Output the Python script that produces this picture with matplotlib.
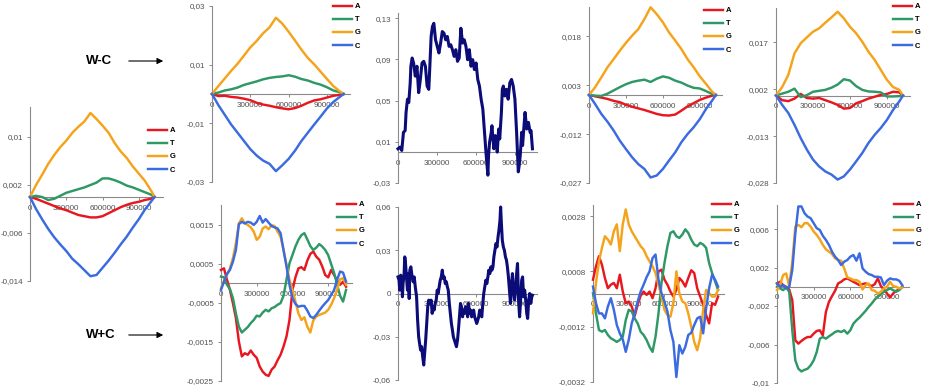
import numpy as np
import matplotlib.pyplot as plt
from matplotlib.lines import Line2D
from matplotlib.patches import FancyArrowPatch

plt.rcParams['font.family'] = ['Liberation Sans', 'DejaVu Sans']

# positions in kb, skews in units of 1e-3
pos_top = [0, 50, 100, 150, 200, 250, 300, 350, 400, 450, 500, 550, 600, 650, 700,
           750, 800, 850, 900, 950, 1000, 1030]

left_A = [0, -0.3, -0.7, -1.1, -1.5, -1.9, -2.2, -2.6, -3.0, -3.2, -3.4, -3.4, -3.2, -2.7,
          -2.2, -1.7, -1.3, -1.0, -0.8, -0.5, -0.3, 0]
left_T = [0, 0.2, 0.0, -0.5, -0.3, 0.2, 0.7, 1.0, 1.3, 1.6, 2.0, 2.4, 3.1, 3.1, 2.8, 2.4,
          1.9, 1.6, 1.2, 0.8, 0.4, 0]
left_G = [0, 2.0, 3.7, 5.5, 7.0, 8.3, 9.4, 10.7, 11.7, 12.6, 14.0, 13.0, 11.9, 10.7, 9.0,
          7.6, 6.5, 5.1, 3.9, 2.7, 1.1, 0]
left_C = [0, -2.0, -3.7, -5.3, -6.7, -7.9, -9.0, -10.3, -11.2, -12.2, -13.2, -13.0, -11.8,
          -10.6, -9.3, -7.9, -6.6, -5.1, -3.7, -2.1, -0.8, 0]

wc1_A = [0, -0.7, -0.6, -1.0, -1.2, -1.6, -2.1, -3.0, -3.6, -4.0, -4.5, -4.9, -5.2, -4.8,
         -4.0, -3.0, -2.2, -1.8, -1.2, -0.6, -0.3, 0]
wc1_T = [0, 0.5, 1.2, 1.6, 2.2, 3.1, 3.7, 4.3, 5.0, 5.5, 5.8, 6.0, 6.4, 5.9, 5.1, 4.6, 3.8,
         3.2, 2.3, 1.2, 0.6, 0]
wc1_G = [0, 2.7, 5.3, 7.9, 10.3, 13.1, 15.9, 18.1, 20.7, 22.7, 26.0, 24.0, 21.2, 18.2, 15.1,
         12.3, 10.1, 7.6, 5.1, 2.7, 0.9, 0]
wc1_C = [0, -3.8, -7.1, -10.4, -13.2, -16.0, -18.8, -21.0, -22.7, -23.8, -26.3, -24.3, -22.1,
         -19.3, -16.0, -13.2, -10.4, -7.7, -4.9, -2.7, -1.0, 0]

wc3_A = [0, -0.4, -0.8, -1.2, -1.8, -2.2, -3.0, -3.6, -4.1, -4.6, -5.2, -5.8, -6.2, -6.3,
         -6.0, -4.8, -3.5, -2.5, -1.5, -0.8, -0.2, 0]
wc3_T = [0, -0.2, -0.3, 0.4, 1.4, 2.4, 3.3, 4.0, 4.4, 4.7, 4.0, 5.0, 5.7, 5.3, 4.4, 3.8,
         2.9, 2.2, 2.0, 1.2, 0.3, 0]
wc3_G = [0, 2.4, 5.4, 8.5, 11.0, 13.6, 16.0, 18.2, 20.2, 23.3, 26.9, 24.8, 22.3, 19.2, 16.7,
         14.1, 11.0, 8.5, 5.7, 3.4, 1.0, 0]
wc3_C = [0, -2.8, -5.8, -8.2, -10.9, -14.0, -16.6, -19.1, -21.2, -22.7, -25.3, -24.7, -22.7,
         -20.1, -17.6, -14.5, -12.0, -9.9, -7.4, -4.3, -1.7, 0]

wc4_A = [0, -1.5, -1.8, -1.0, 0.5, -0.8, -1.0, -0.8, -1.5, -2.2, -3.0, -4.2, -4.0, -2.5,
         -1.8, -1.0, -0.4, 0.2, 0.5, 1.2, 1.0, 0]
wc4_T = [0, 0.6, 1.2, 2.2, -0.5, 0.1, 1.2, 1.5, 1.8, 2.5, 3.5, 5.2, 4.8, 3.0, 1.8, 1.3,
         1.2, 1.0, -0.3, -0.3, -0.2, 0]
wc4_G = [0, 2.7, 6.6, 13.5, 16.7, 18.6, 20.4, 21.5, 23.3, 25.0, 26.8, 24.7, 22.0, 19.9,
         17.2, 14.0, 11.4, 8.2, 5.0, 2.7, 1.8, 0]
wc4_C = [0, -3.0, -5.6, -9.4, -13.6, -17.3, -20.5, -22.7, -24.3, -25.3, -26.9, -25.9, -23.7,
         -21.1, -18.4, -15.2, -12.6, -10.4, -7.8, -4.6, -1.9, 0]

wc_pos = [0, 16, 29, 42, 55, 62, 73, 83, 94, 99, 109, 120, 133, 146, 159, 172, 185, 198,
          211, 224, 237, 244, 255, 265, 276, 289, 302, 315, 328, 341, 354, 367, 380, 393,
          406, 419, 432, 445, 458, 471, 484, 497, 510, 523, 536, 549, 562, 575, 588, 601,
          614, 627, 640, 653, 666, 679, 692, 697, 705, 718, 723, 731, 738, 749, 757, 764,
          775, 783, 796, 803, 811, 822, 835, 848, 861, 874, 887, 900, 913, 926, 933, 941,
          952, 959, 970, 978, 991, 1004, 1017, 1024, 1035]
wc_total = [3.2, 4.8, 1.6, 19.2, 20.8, 38.5, 51.3, 48.1, 67.3, 83.3, 91.3, 86.5, 73.7, 83.3,
            57.7, 70.5, 86.5, 88.1, 83.3, 64.1, 60.9, 80.1, 112.2, 121.8, 125.0, 109.0,
            102.6, 96.2, 105.8, 117.0, 115.4, 109.0, 112.2, 102.6, 104.2, 99.4, 92.9, 99.4,
            88.1, 91.3, 120.2, 105.8, 109.0, 102.6, 89.7, 99.4, 83.3, 89.7, 80.1, 86.5, 70.5,
            64.1, 51.3, 41.7, 19.2, -3.2, -22.4, -3.2, 9.6, 19.2, 25.6, 12.8, 3.2, 16.0, 12.8,
            0, 22.4, 12.8, 38.5, 60.9, 64.1, 54.5, 60.9, 51.3, 67.3, 70.5, 64.1, 51.3, 19.2,
            -19.2, -12.8, -3.2, 19.2, 6.4, 25.6, 38.5, 22.4, 28.8, 19.2, 20.8, 3.2]

pos_bot = [0, 25, 50, 75, 100, 125, 150, 175, 200, 225, 250, 275, 300, 325, 350, 375, 400,
           425, 450, 475, 500, 525, 550, 575, 600, 625, 650, 675, 700, 725, 750, 775, 800,
           825, 850, 875, 900, 925, 950, 975, 1000, 1025, 1050]

wpc1_A = [0.34, 0.38, 0.09, -0.17, -0.51, -0.89, -1.49, -1.87, -1.79, -1.83, -1.72, -1.83,
          -1.91, -2.13, -2.26, -2.34, -2.37, -2.21, -2.13, -1.97, -1.83, -1.62, -1.36, -0.94,
          -0.17, 0.15, 0.38, 0.41, 0.34, 0.58, 0.75, 0.81, 0.68, 0.60, 0.43, 0.21, 0.15, 0.34,
          0.21, 0.07, -0.04, 0.04, -0.09]
wpc1_T = [0.17, 0.15, -0.04, -0.15, -0.38, -0.77, -1.11, -1.26, -1.19, -1.12, -1.02, -0.94,
          -0.83, -0.85, -0.75, -0.68, -0.72, -0.64, -0.61, -0.55, -0.51, -0.32, 0.09, 0.51,
          0.72, 0.94, 1.11, 1.23, 1.28, 1.12, 0.95, 0.85, 0.91, 1.00, 0.94, 0.85, 0.72, 0.49,
          0.26, -0.04, -0.32, -0.47, -0.17]
wpc1_G = [-0.13, 0.07, 0.21, 0.38, 0.64, 1.02, 1.53, 1.66, 1.53, 1.49, 1.43, 1.32, 1.11,
          1.19, 1.40, 1.45, 1.38, 1.49, 1.46, 1.32, 1.19, 0.85, 0.47, 0.09, -0.17, -0.47,
          -0.77, -0.94, -0.87, -1.11, -1.26, -0.95, -0.85, -0.81, -0.78, -0.75, -0.68, -0.55,
          -0.38, -0.17, 0.10, 0.13, -0.04]
wpc1_C = [-0.17, 0.04, 0.24, 0.34, 0.55, 0.85, 1.51, 1.57, 1.53, 1.57, 1.55, 1.49, 1.57,
          1.72, 1.55, 1.64, 1.55, 1.46, 1.43, 1.40, 1.28, 0.85, 0.43, -0.04, -0.38, -0.53,
          -0.60, -0.58, -0.58, -0.70, -0.85, -0.89, -0.81, -0.70, -0.60, -0.51, -0.43, -0.30,
          -0.17, 0.09, 0.30, 0.27, 0.04]

wpc_pos = [0, 8, 13, 21, 29, 34, 39, 47, 52, 57, 65, 73, 81, 86, 91, 99, 107, 117, 125, 133,
           143, 151, 159, 166, 174, 182, 190, 198, 205, 213, 221, 229, 237, 247, 255, 263,
           270, 278, 286, 294, 302, 309, 317, 325, 333, 341, 348, 356, 364, 372, 380, 387,
           395, 403, 411, 419, 426, 434, 442, 450, 458, 465, 473, 481, 489, 497, 504, 512,
           520, 528, 536, 543, 551, 559, 567, 575, 582, 590, 598, 606, 614, 621, 629, 637,
           645, 653, 660, 668, 676, 684, 692, 699, 707, 715, 723, 731, 738, 746, 754, 762,
           770, 777, 785, 790, 796, 803, 811, 819, 827, 835, 842, 850, 858, 866, 874, 881,
           889, 897, 905, 913, 920, 928, 936, 944, 952, 959, 967, 975, 983, 991, 998, 1006,
           1014, 1022, 1030, 1035]
wpc_total = [11.5, 9.2, 2.3, 12.7, 10.4, -2.3, 6.9, 13.8, 25.4, 21.9, 11.5, 2.3, 13.8, -3.5,
             16.2, 18.5, 12.7, 8.1, 11.5, 4.6, -2.3, -18.5, -30.0, -34.6, -39.2, -36.9, -43.8,
             -49.6, -41.5, -32.3, -20.8, -9.2, -4.6, -6.9, -4.6, -13.8, -9.2, -11.5, -6.9,
             -4.6, 2.3, 0, 4.6, 9.2, 11.5, 16.2, 10.4, 11.5, 6.9, 8.1, 4.6, 2.3, -6.9, -13.8,
             -20.8, -25.4, -30.0, -32.3, -34.6, -36.9, -32.3, -25.4, -16.2, -6.9, -9.2, -16.2,
             -11.5, -13.8, -9.2, -11.5, -16.2, -6.9, -13.8, -11.5, -16.2, -13.8, -11.5, -16.2,
             -18.5, -20.8, -18.5, -16.2, -11.5, -13.8, -16.2, -6.9, 0, 4.6, 9.2, 6.9, 11.5,
             16.2, 13.8, 18.5, 16.2, 18.5, 25.4, 30.0, 34.6, 32.3, 39.2, 43.8, 50.8, 60.0,
             48.5, 36.9, 32.3, 30.0, 25.4, 23.1, 18.5, 11.5, 2.3, -6.9, 6.9, 13.8, 2.3, -4.6,
             2.3, 13.8, 20.8, -4.6, -16.2, -4.6, 9.2, 11.5, -2.3, 2.3, -4.6, -13.8, -17.3,
             -4.6, 0, -6.9, -2.3, -1.2]

wpc3_A = [0.50, 0.98, 1.35, 1.04, 0.56, 0.19, 0.32, 0.38, 0.19, 0.68, 0.07, -0.35, -0.29,
          -0.47, -0.81, -0.41, -0.08, 0.07, -0.05, 0.07, -0.17, 0.19, 0.80, 0.86, 0.50, 0.32,
          0.07, -0.11, 0.13, 0.56, 0.44, 0.25, 0.56, 0.84, 0.74, 0.19, -0.11, -0.41, -0.78,
          -1.08, -0.35, -0.41, -0.11]
wpc3_T = [0.01, -0.72, -1.32, -1.38, -1.32, -1.50, -1.62, -1.68, -1.75, -1.68, -1.56, -0.96,
          -0.59, -0.65, -0.90, -1.08, -1.38, -1.50, -1.68, -1.93, -2.11, -1.56, -0.72, 0.38,
          1.10, 1.71, 2.19, 2.25, 2.07, 2.01, 2.13, 2.32, 2.19, 1.95, 1.77, 1.71, 1.83, 1.77,
          1.65, 1.10, 0.74, 0.44, 0.13]
wpc3_G = [-0.72, 0.38, 1.16, 1.65, 2.07, 1.95, 1.77, 2.25, 2.50, 1.53, 2.50, 3.04, 2.50,
          2.25, 2.07, 1.89, 1.71, 1.59, 1.35, 1.16, 0.98, 0.74, 0.32, -0.11, -0.59, -0.78,
          -0.84, -0.35, 0.80, 0.01, -0.29, -0.35, -0.72, -1.20, -1.75, -2.05, -1.62, -0.59,
          0.13, 0.01, -0.11, -0.11, 0.13]
wpc3_C = [0.25, -0.35, -0.72, -0.72, -0.90, -0.47, -0.17, -0.59, -1.14, -1.44, -1.66, -2.11,
          -1.68, -1.08, -0.72, -0.29, 0.07, 0.32, 0.59, 0.80, 1.28, 1.41, 0.50, 0.01, -0.29,
          -0.65, -1.32, -1.75, -3.02, -1.87, -2.17, -1.93, -1.50, -1.42, -1.14, -0.90, -0.84,
          -1.44, -0.53, 0.19, 0.68, 0.50, 0.25]

wpc4_A = [0.35, 0.52, 0.17, 0.00, -0.28, -1.39, -5.57, -5.91, -5.63, -5.39, -5.22, -5.22,
          -4.87, -4.59, -4.52, -5.04, -2.61, -1.57, -0.97, -0.42, 0.35, 0.52, 0.77, 0.87,
          0.70, 0.52, 0.35, 0.17, 0.28, 0.35, 0.24, 0.07, 0.28, 0.87, 0.07, -0.28, -0.70,
          -1.11, -0.70, -0.42, -0.28, 0.00]
wpc4_T = [0.00, -0.17, -0.35, -0.07, -0.52, -4.52, -7.65, -8.52, -8.80, -8.63, -8.52, -8.17,
          -7.65, -6.78, -5.39, -5.22, -5.39, -5.15, -4.94, -4.70, -4.59, -4.70, -4.52, -4.87,
          -4.52, -3.83, -3.48, -3.20, -2.85, -2.50, -2.09, -1.74, -1.32, -1.04, -0.77, -0.52,
          -0.35, -0.17, -0.35, -0.52, -0.35, 0.00]
wpc4_G = [-0.35, 0.17, 1.22, 1.39, 0.07, 2.61, 6.26, 6.43, 6.19, 6.61, 6.61, 6.26, 5.74,
          5.39, 4.94, 4.35, 3.90, 3.65, 3.41, 2.96, 2.78, 2.71, 1.91, 0.97, 0.87, 0.70, 0.70,
          0.52, -0.28, 0.17, 0.35, -0.35, -0.42, -0.70, -0.52, -0.17, 0.00, 0.52, 0.07, 0.00,
          -0.17, -0.07]
wpc4_C = [0.35, 0.00, 0.17, -0.17, 0.00, 1.74, 5.57, 8.35, 8.35, 7.65, 7.30, 7.13, 6.61,
          6.09, 5.91, 5.29, 4.87, 4.35, 3.65, 3.13, 2.78, 2.26, 2.61, 2.78, 3.13, 3.30, 2.71,
          3.48, 1.91, 1.57, 1.32, 1.22, 1.04, 1.04, 0.97, 0.17, 0.63, 0.87, 0.77, 0.77, 0.63,
          0.17]

bases = ['A', 'T', 'G', 'C']
xtick_vals = [0, 300000, 600000, 900000]
xtick_labels = ['0', '300000', '600000', '900000']

COLORS = {'A': '#e8171f', 'T': '#2e9866', 'G': '#f5a31a', 'C': '#3b6be0'}
NAVY = '#0c0c78'
AXIS_GREY = '#8a8a8a'

W, H = 928, 392
fig = plt.figure(figsize=(W / 100, H / 100), dpi=100)


def px_axes(x0, y0, x1, y1):
    # rectangle given in picture pixels, y measured from the top
    return fig.add_axes([x0 / W, 1 - y1 / H, (x1 - x0) / W, (y1 - y0) / H])


def style(ax, xmax, ylim, yticks):
    ax.set_xlim(0, xmax)
    ax.set_ylim(*ylim)
    ax.patch.set_visible(False)
    ax.set_axisbelow(True)
    for s in ('top', 'right'):
        ax.spines[s].set_visible(False)
    ax.spines['bottom'].set_position(('data', 0))
    for s in ('left', 'bottom'):
        ax.spines[s].set_color(AXIS_GREY)
        ax.spines[s].set_linewidth(0.8)
        ax.spines[s].set_zorder(0.6)
    ax.set_yticks(yticks)
    ax.set_yticklabels([f'{v:g}'.replace('.', ',') for v in yticks])
    ax.set_xticks(xtick_vals)
    ax.set_xticklabels(xtick_labels)
    ax.tick_params(labelsize=5.8, color=AXIS_GREY, labelcolor='#505050', width=0.7)
    ax.tick_params(axis='y', length=2.5, pad=2.5)
    ax.tick_params(axis='x', length=2.0, pad=3.5)


def draw_bases(ax, pos, series):
    x = np.array(pos) * 1000
    for b in bases:
        ax.plot(x[:len(series[b])], np.array(series[b]) / 1000, color=COLORS[b], lw=1.75,
                clip_on=False, solid_joinstyle='round')


def add_legend(ax, x_px, y_px):
    handles = [Line2D([], [], color=COLORS[b], lw=1.75) for b in bases]
    leg = ax.legend(handles, bases, loc='upper left',
                    bbox_to_anchor=(x_px / W, 1 - y_px / H), bbox_transform=fig.transFigure,
                    frameon=False, fontsize=5.5, handlelength=2.5, handleheight=0.7,
                    handletextpad=0.4, labelspacing=0.75, borderpad=0, borderaxespad=0)
    for t in leg.get_texts():
        t.set_fontweight('bold')


# left single panel
ax = px_axes(30, 107, 163, 281)
style(ax, 1100000, (-0.014, 0.015), [-0.014, -0.006, 0.002, 0.01])
draw_bases(ax, pos_top, {'A': left_A, 'T': left_T, 'G': left_G, 'C': left_C})
add_legend(ax, 148, 127)

# top row (W-C)
ax = px_axes(212, 6, 350, 182)
style(ax, 1080000, (-0.03, 0.03), [-0.03, -0.01, 0.01, 0.03])
draw_bases(ax, pos_top, {'A': wc1_A, 'T': wc1_T, 'G': wc1_G, 'C': wc1_C})
add_legend(ax, 333, 3)

ax = px_axes(398, 13, 537, 183)
style(ax, 1070000, (-0.03, 0.135), [-0.03, 0.01, 0.05, 0.09, 0.13])
ax.plot(np.array(wc_pos) * 1000, np.array(wc_total) / 1000, color=NAVY, lw=2.2,
        clip_on=False)

ax = px_axes(589, 7, 722, 183)
style(ax, 1080000, (-0.027, 0.027), [-0.027, -0.012, 0.003, 0.018])
draw_bases(ax, pos_top, {'A': wc3_A, 'T': wc3_T, 'G': wc3_G, 'C': wc3_C})
add_legend(ax, 704, 7)

ax = px_axes(776, 8, 910, 183)
style(ax, 1087000, (-0.028, 0.028), [-0.028, -0.013, 0.002, 0.017])
draw_bases(ax, pos_top, {'A': wc4_A, 'T': wc4_T, 'G': wc4_G, 'C': wc4_C})
add_legend(ax, 893, 3)

# bottom row (W+C)
ax = px_axes(221, 205, 352, 381)
style(ax, 1100000, (-0.0025, 0.002), [-0.0025, -0.0015, -0.0005, 0.0005, 0.0015])
draw_bases(ax, pos_bot, {'A': wpc1_A, 'T': wpc1_T, 'G': wpc1_G, 'C': wpc1_C})
add_legend(ax, 337, 201)

ax = px_axes(398, 207, 537, 380)
style(ax, 1070000, (-0.06, 0.06), [-0.06, -0.03, 0, 0.03, 0.06])
ax.plot(np.array(wpc_pos) * 1000, np.array(wpc_total) / 1000, color=NAVY, lw=2.2,
        clip_on=False)

ax = px_axes(593, 205, 724, 382)
style(ax, 1100000, (-0.0032, 0.0032), [-0.0032, -0.0012, 0.0008, 0.0028])
draw_bases(ax, pos_bot, {'A': wpc3_A, 'T': wpc3_T, 'G': wpc3_G, 'C': wpc3_C})
add_legend(ax, 712, 201)

ax = px_axes(777, 205, 909, 383)
style(ax, 1080000, (-0.01, 0.0085), [-0.01, -0.006, -0.002, 0.002, 0.006])
draw_bases(ax, pos_bot, {'A': wpc4_A, 'T': wpc4_T, 'G': wpc4_G, 'C': wpc4_C})
add_legend(ax, 894, 201)

# row labels with arrows
for label, xc, yc in [('W-C', 99, 61), ('W+C', 101, 335)]:
    fig.text(xc / W, 1 - yc / H, label, ha='center', va='center', fontsize=9.5,
             fontweight='bold')
    fig.add_artist(FancyArrowPatch((126 / W, 1 - yc / H), (166 / W, 1 - yc / H),
                                   transform=fig.transFigure, arrowstyle='-|>',
                                   mutation_scale=9, lw=0.8, color='black'))

fig.savefig('out.png', dpi=100)
